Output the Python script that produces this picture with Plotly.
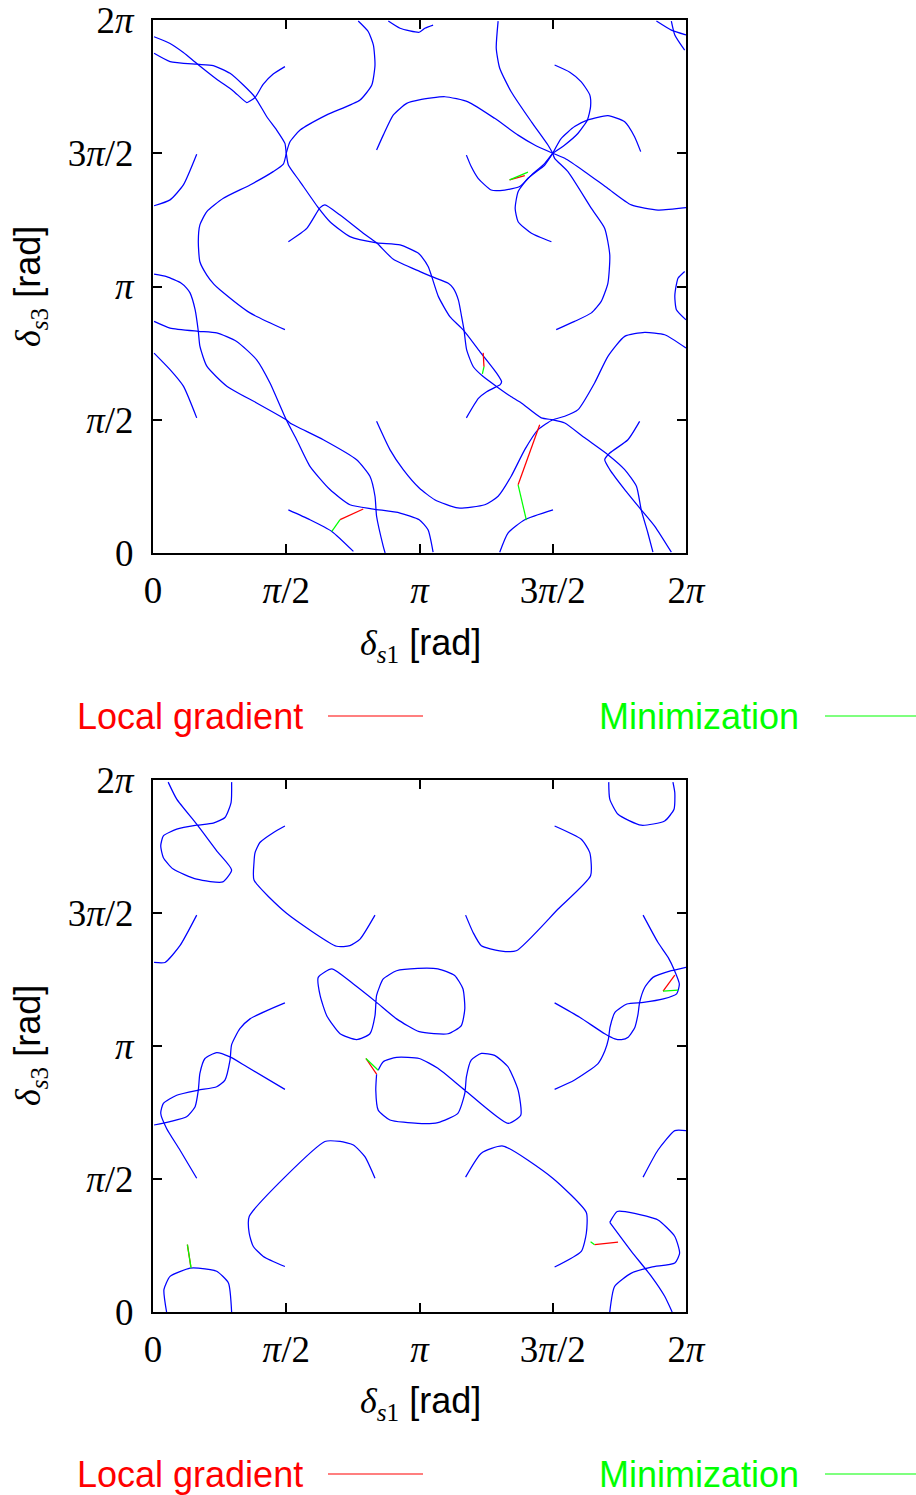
import math
import plotly.graph_objects as go

PI = math.pi

# ---------------- data (coordinates in units of pi) ----------------
tick_vals_pi = [0, 0.5, 1, 1.5, 2]
tick_text = ['0', '<i>π</i>/2', '<i>π</i>', '3<i>π</i>/2', '2<i>π</i>']

# ---- top panel : blue contour branches ----
top_b01 = [(0.004,1.937),(0.064,1.912),(0.114,1.878),(0.164,1.837),(0.239,1.778),(0.301,1.734),(0.352,1.690),(0.364,1.696),(0.383,1.709),(0.414,1.759),(0.451,1.797),(0.495,1.825)]
top_b02 = [(0.004,1.875),(0.064,1.844),(0.164,1.834),(0.226,1.829),(0.289,1.800),(0.339,1.756),(0.383,1.710),(0.427,1.637),(0.464,1.587),(0.495,1.537),(0.5,1.5),(0.508,1.456),(0.552,1.393),(0.620,1.296),(0.664,1.243),(0.739,1.187),(0.839,1.164),(0.927,1.156),(0.996,1.125),(1.008,1.112),(1.033,1.074),(1.046,1.037),(1.071,0.962),(1.114,0.887),(1.164,0.837),(1.227,0.755),(1.290,0.674),(1.308,0.643),(1.302,0.631),(1.290,0.625),(1.252,0.605),(1.221,0.580),(1.176,0.507)]
top_b03 = [(0.5,1.5),(0.514,1.543),(0.552,1.587),(0.652,1.644),(0.777,1.700),(0.821,1.756),(0.833,1.831),(0.827,1.906),(0.808,1.956),(0.770,1.996)]
top_b04 = [(0.5,1.5),(0.489,1.459),(0.451,1.431),(0.364,1.381),(0.264,1.331),(0.202,1.281),(0.176,1.231),(0.170,1.168),(0.176,1.093),(0.202,1.043),(0.229,1.008),(0.251,0.988),(0.364,0.901),(0.495,0.838)]
top_b05 = [(0.839,1.512),(0.864,1.568),(0.902,1.644),(0.952,1.687),(0.999,1.700),(1.095,1.712),(1.182,1.693),(1.282,1.631),(1.370,1.568),(1.432,1.531),(1.5,1.5)]
top_b06 = [(0.004,1.303),(0.064,1.325),(0.114,1.381),(0.164,1.496)]
top_b07 = [(0.883,1.996),(0.927,1.969),(0.999,1.954),(1.020,1.969),(1.051,1.981)]
top_b08 = [(0.508,1.168),(0.577,1.218),(0.627,1.296),(0.645,1.306),(0.702,1.268),(0.789,1.200),(0.839,1.164),(0.902,1.102),(1.002,1.056),(1.046,1.037),(1.108,1.012),(1.127,0.993),(1.146,0.949),(1.158,0.887),(1.167,0.837),(1.177,0.762),(1.202,0.699),(1.239,0.662),(1.290,0.624),(1.340,0.589),(1.382,0.563),(1.457,0.507),(1.5,0.5),(1.545,0.488),(1.620,0.432),(1.707,0.369),(1.770,0.313),(1.814,0.250),(1.832,0.162),(1.857,0.075),(1.876,0.003)]
top_b09 = [(0.004,0.869),(0.064,0.844),(0.170,0.832),(0.239,0.826),(0.314,0.794),(0.389,0.725),(0.439,0.638),(0.5,0.5),(0.539,0.425),(0.589,0.325),(0.664,0.238),(0.739,0.181),(0.827,0.165),(0.927,0.150),(0.999,0.125),(1.032,0.087),(1.051,0.003)]
top_b10 = [(0.004,1.046),(0.051,1.037),(0.105,1.013),(0.126,0.994),(0.139,0.976),(0.158,0.913),(0.170,0.832),(0.176,0.776),(0.202,0.701),(0.277,0.626),(0.389,0.563),(0.5,0.5),(0.514,0.488),(0.639,0.425),(0.764,0.350),(0.814,0.288),(0.833,0.213),(0.839,0.138),(0.864,0.025),(0.871,0.0)]
top_b11 = [(0.004,0.750),(0.064,0.688),(0.114,0.626),(0.164,0.507)]
top_b12 = [(0.839,0.494),(0.889,0.388),(0.939,0.313),(0.999,0.244),(1.057,0.200),(1.144,0.169),(1.245,0.181),(1.295,0.213),(1.344,0.288),(1.395,0.388),(1.445,0.463),(1.5,0.5),(1.545,0.513),(1.595,0.538),(1.657,0.638),(1.707,0.738),(1.770,0.813),(1.845,0.828),(1.920,0.819),(2.0,0.769)]
top_b13 = [(0.508,0.162),(0.589,0.125),(0.671,0.081),(0.752,0.006)]
top_b14 = [(1.507,1.831),(1.564,1.804),(1.607,1.768),(1.639,1.719),(1.642,1.675),(1.630,1.625),(1.595,1.575),(1.545,1.531),(1.5,1.5)]
top_b15 = [(1.5,1.5),(1.532,1.556),(1.582,1.600),(1.632,1.625),(1.707,1.641),(1.770,1.618),(1.807,1.562),(1.830,1.506)]
top_b16 = [(1.5,1.5),(1.545,1.481),(1.620,1.431),(1.707,1.368),(1.795,1.306),(1.895,1.287),(2.0,1.296)]
top_b17 = [(1.176,1.493),(1.194,1.450),(1.220,1.406),(1.269,1.362),(1.320,1.362),(1.376,1.375),(1.420,1.418),(1.470,1.462),(1.5,1.5)]
top_b18 = [(1.5,1.5),(1.470,1.456),(1.407,1.406),(1.370,1.356),(1.359,1.293),(1.370,1.243),(1.420,1.200),(1.495,1.168)]
top_b19 = [(1.295,1.996),(1.288,1.894),(1.301,1.819),(1.344,1.731),(1.420,1.618),(1.482,1.531),(1.5,1.5)]
top_b20 = [(1.5,1.5),(1.507,1.481),(1.557,1.431),(1.645,1.293),(1.695,1.218),(1.714,1.118),(1.707,1.013),(1.682,0.944),(1.645,0.901),(1.582,0.869),(1.513,0.838)]
top_b21 = [(1.826,0.494),(1.782,0.425),(1.714,0.375),(1.695,0.350),(1.714,0.313),(1.770,0.238),(1.832,0.162),(1.883,0.100),(1.945,0.003)]
top_b22 = [(1.301,0.003),(1.332,0.075),(1.395,0.125),(1.501,0.162)]
top_b23 = [(1.995,1.056),(1.970,1.031),(1.964,1.008),(1.958,0.963),(1.964,0.913),(2.0,0.875)]
top_b24 = [(1.889,1.996),(1.945,1.962),(2.0,1.944)]
top_b25 = [(1.945,1.996),(1.958,1.944),(1.995,1.887)]

top_red = [[(0.702,0.125),(0.789,0.165)], [(1.239,0.751),(1.242,0.699)], [(1.451,0.481),(1.370,0.256)], [(1.338,1.400),(1.395,1.416)]]
top_green = [[(0.671,0.081),(0.702,0.125)], [(1.242,0.699),(1.236,0.672)], [(1.370,0.256),(1.401,0.123)], [(1.338,1.400),(1.407,1.429)]]

# ---- bottom panel : blue contour branches ----
bot_b01 = [(0.057,1.992),(0.089,1.928),(0.164,1.834),(0.239,1.734),(0.295,1.662),(0.262,1.617),(0.164,1.627),(0.076,1.665),(0.039,1.708),(0.029,1.752),(0.039,1.790),(0.089,1.815),(0.164,1.830),(0.226,1.838),(0.270,1.859),(0.293,1.915),(0.295,1.992)]
bot_b02 = [(0.495,1.827),(0.451,1.802),(0.401,1.765),(0.383,1.727),(0.379,1.690),(0.379,1.624),(0.5,1.5),(0.689,1.375),(0.739,1.377),(0.777,1.402),(0.833,1.492)]
bot_b03 = [(0.004,1.314),(0.045,1.314),(0.101,1.377),(0.164,1.492)]
bot_b04 = [(0.495,1.162),(0.427,1.133),(0.364,1.102),(0.326,1.065),(0.295,1.005),(0.289,0.947),(0.270,0.872),(0.239,0.847),(0.170,0.834),(0.089,0.815),(0.039,0.784),(0.029,0.747),(0.051,0.690),(0.101,0.609),(0.164,0.503)]
bot_b05 = [(0.004,0.703),(0.064,0.716),(0.126,0.734),(0.158,0.772),(0.170,0.834),(0.176,0.897),(0.195,0.953),(0.239,0.975),(0.289,0.959),(0.352,0.922),(0.495,0.837)]
bot_b06 = [(0.620,1.258),(0.671,1.290),(0.752,1.233),(0.839,1.164),(0.914,1.102),(0.999,1.054),(1.107,1.046),(1.157,1.077),(1.170,1.140),(1.163,1.215),(1.132,1.265),(1.069,1.290),(0.994,1.292),(0.914,1.283),(0.864,1.252),(0.839,1.190),(0.833,1.114),(0.814,1.046),(0.764,1.024),(0.702,1.046),(0.652,1.114),(0.627,1.190),(0.620,1.258)]
bot_b07 = [(1.710,1.992),(1.714,1.928),(1.745,1.871),(1.832,1.830),(1.920,1.846),(1.955,1.890),(1.958,1.952),(1.951,1.992)]
bot_b08 = [(1.507,1.827),(1.607,1.777),(1.639,1.727),(1.642,1.640),(1.520,1.515),(1.363,1.358),(1.301,1.358),(1.232,1.377),(1.201,1.427),(1.173,1.492)]
bot_b09 = [(1.507,1.162),(1.601,1.108),(1.695,1.046),(1.733,1.027),(1.758,1.024),(1.783,1.033),(1.808,1.070),(1.820,1.120),(1.826,1.164),(1.845,1.220),(1.876,1.258),(1.945,1.283),(2.0,1.296)]
bot_b10 = [(1.839,1.492),(1.895,1.389),(1.933,1.333),(1.958,1.281),(1.975,1.233),(1.965,1.196),(1.915,1.177),(1.840,1.164),(1.778,1.158),(1.734,1.127),(1.715,1.071),(1.709,1.027),(1.696,0.983),(1.670,0.934),(1.582,0.872),(1.507,0.837)]
bot_b11 = [(0.051,0.0),(0.041,0.084),(0.064,0.134),(0.139,0.165),(0.170,0.165),(0.239,0.153),(0.283,0.109),(0.295,0.0)]
bot_b12 = [(0.495,0.171),(0.414,0.209),(0.376,0.247),(0.361,0.296),(0.361,0.359),(0.645,0.641),(0.702,0.641),(0.752,0.628),(0.795,0.584),(0.833,0.503)]
bot_b13 = [(0.845,0.909),(0.864,0.941),(0.914,0.957),(0.999,0.953),(1.069,0.916),(1.170,0.834),(1.332,0.709),(1.380,0.740),(1.370,0.834),(1.332,0.922),(1.282,0.965),(1.232,0.972),(1.194,0.947),(1.176,0.884),(1.170,0.822),(1.144,0.747),(1.069,0.712),(0.994,0.709),(0.889,0.722),(0.845,0.759),(0.836,0.834),(0.839,0.894)]
bot_b14 = [(1.173,0.507),(1.232,0.597),(1.313,0.624),(1.5,0.503),(1.626,0.374),(1.626,0.296),(1.607,0.228),(1.507,0.169)]
bot_b15 = [(1.839,0.507),(1.895,0.609),(1.958,0.682),(2.0,0.682)]
bot_b16 = [(1.714,0.337),(1.742,0.378),(1.807,0.371),(1.895,0.346),(1.958,0.284),(1.976,0.221),(1.958,0.184),(1.870,0.169),(1.795,0.146),(1.732,0.096),(1.714,0.0)]
bot_b17 = [(1.714,0.337),(1.795,0.228),(1.870,0.134),(1.920,0.059),(1.948,0.0)]

bot_red = [[(1.914,1.206),(1.958,1.266)], [(0.129,0.253),(0.142,0.170)], [(0.799,0.953),(0.839,0.894)], [(1.657,0.253),(1.745,0.263)]]
bot_green = [[(1.914,1.206),(1.970,1.210)], [(0.129,0.253),(0.143,0.165)], [(0.799,0.953),(0.845,0.909)], [(1.642,0.264),(1.657,0.253)]]

legend_labels = ['Local gradient', 'Minimization']

# ---------------- styling ----------------
BLUE, RED, GREEN = '#0000ff', '#ff0000', '#00ff00'
W, H = 916, 1495
SERIF = 'Liberation Serif'
SANS = 'Liberation Sans'

top_blue = [top_b01, top_b02, top_b03, top_b04, top_b05, top_b06, top_b07, top_b08, top_b09, top_b10,
            top_b11, top_b12, top_b13, top_b14, top_b15, top_b16, top_b17, top_b18, top_b19, top_b20,
            top_b21, top_b22, top_b23, top_b24, top_b25]
bot_blue = [bot_b01, bot_b02, bot_b03, bot_b04, bot_b05, bot_b06, bot_b07, bot_b08, bot_b09, bot_b10,
            bot_b11, bot_b12, bot_b13, bot_b14, bot_b15, bot_b16, bot_b17]

fig = go.Figure()


def add_group(curves, color, width, xa, ya, shape):
    xs, ys = [], []
    for c in curves:
        xs += [p[0] * PI for p in c] + [None]
        ys += [p[1] * PI for p in c] + [None]
    line = dict(color=color, width=width, shape=shape)
    if shape == 'spline':
        line['smoothing'] = 0.55
    fig.add_trace(go.Scatter(x=xs, y=ys, mode='lines', line=line, xaxis=xa, yaxis=ya,
                             showlegend=False, hoverinfo='skip', connectgaps=False))


add_group(top_blue, BLUE, 1.25, 'x', 'y', 'spline')
add_group(top_red, RED, 1.25, 'x', 'y', 'linear')
add_group(top_green, GREEN, 1.25, 'x', 'y', 'linear')
add_group(bot_blue, BLUE, 1.25, 'x2', 'y2', 'spline')
add_group(bot_red, RED, 1.25, 'x2', 'y2', 'linear')
add_group(bot_green, GREEN, 1.25, 'x2', 'y2', 'linear')

tickvals = [v * PI for v in tick_vals_pi]
xdom = [153 / W, 686 / W]
top_ydom = [1 - 553 / H, 1 - 20 / H]
bot_ydom = [1 - 1312 / H, 1 - 780 / H]


def axis(dom, anchor, standoff):
    return dict(domain=dom, anchor=anchor, range=[0, 2 * PI], tickmode='array', tickvals=tickvals,
                ticktext=tick_text, ticks='inside', ticklen=9, tickwidth=2, tickcolor='black',
                showline=True, linewidth=2, linecolor='black', mirror='ticks', showgrid=False,
                zeroline=False, fixedrange=True, ticklabelstandoff=standoff, automargin=False,
                ticklabeloverflow='allow',
                tickfont=dict(family=SERIF, size=37, color='black'))


fig.update_layout(
    width=W, height=H, margin=dict(l=0, r=0, t=0, b=0, autoexpand=False),
    paper_bgcolor='white', plot_bgcolor='white', showlegend=False, hovermode=False,
    xaxis=axis(xdom, 'y', 4), yaxis=axis(top_ydom, 'x', 10),
    xaxis2=axis(xdom, 'y2', 4), yaxis2=axis(bot_ydom, 'x2', 10),
)

xlab = ('<span style="font-family:Liberation Serif"><i>δ</i><sub><i>s</i>1</sub></span> [rad]')
ylab = ('<span style="font-family:Liberation Serif"><i>δ</i><sub><i>s</i>3</sub></span> [rad]')

annotations = []
shapes = []
for (xt_y, yt_y, leg_y) in [(645, 287, 716), (1403, 1046, 1474)]:
    annotations.append(dict(x=420 / W, y=1 - xt_y / H, xref='paper', yref='paper', text=xlab,
                            showarrow=False, xanchor='center', yanchor='middle',
                            font=dict(family=SANS, size=36, color='black')))
    annotations.append(dict(x=30 / W, y=1 - yt_y / H, xref='paper', yref='paper', text=ylab,
                            showarrow=False, xanchor='center', yanchor='middle', textangle=-90,
                            font=dict(family=SANS, size=36, color='black')))
    annotations.append(dict(x=305 / W, y=1 - leg_y / H, xref='paper', yref='paper', text=legend_labels[0],
                            showarrow=False, xanchor='right', yanchor='middle',
                            font=dict(family=SANS, size=36, color=RED)))
    annotations.append(dict(x=801 / W, y=1 - leg_y / H, xref='paper', yref='paper', text=legend_labels[1],
                            showarrow=False, xanchor='right', yanchor='middle',
                            font=dict(family=SANS, size=36, color=GREEN)))
    shapes.append(dict(type='line', xref='paper', yref='paper', x0=328 / W, x1=423 / W,
                       y0=1 - leg_y / H, y1=1 - leg_y / H, line=dict(color=RED, width=1.2)))
    shapes.append(dict(type='line', xref='paper', yref='paper', x0=825 / W, x1=916 / W,
                       y0=1 - leg_y / H, y1=1 - leg_y / H, line=dict(color=GREEN, width=1.2)))

fig.update_layout(annotations=annotations, shapes=shapes)

fig.write_html('out.html', config={'displayModeBar': False})
